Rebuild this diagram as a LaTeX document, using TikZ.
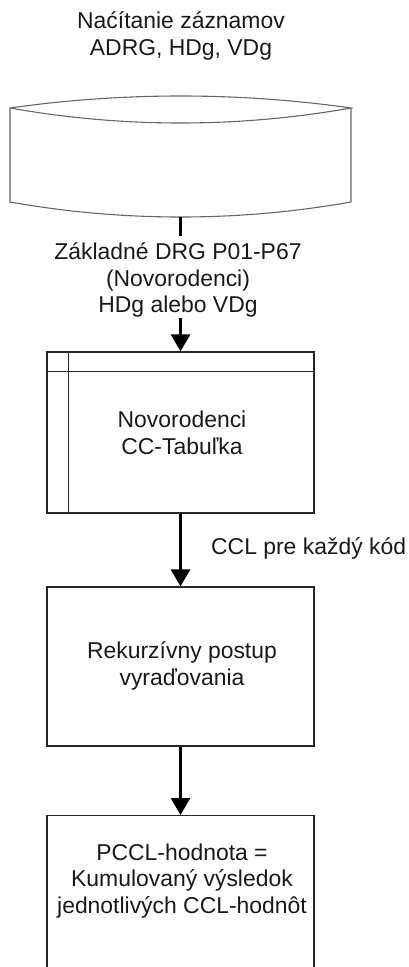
\documentclass[tikz,border=0pt]{standalone}
\usepackage{fontspec}
\setmainfont{Liberation Sans}
\usetikzlibrary{arrows.meta}
\begin{document}
\begin{tikzpicture}[x=1bp,y=-1bp,
  txt/.style={font=\fontsize{23}{27}\selectfont, align=center, text=black!90, inner sep=0pt},
  procbox/.style={draw=black!85, line width=1.3bp, minimum width=267bp, inner sep=0pt},
  storeline/.style={draw=black!60, line width=1.1bp},
  thickline/.style={line width=3.2bp},
  arr/.style={thickline, -{Triangle[width=19bp,length=17bp]}},
]
\useasboundingbox (0,0) rectangle (408,967);
\clip (0,0) rectangle (408,967);

% title
\node[txt] (t0) at (181,36) {Naćítanie záznamov\\ADRG, HDg, VDg};

% stored-data shape
\draw[storeline] (10,108) .. controls (123,92) and (238,92) .. (351,108)
  .. controls (238,128) and (123,128) .. (10,108) -- (10,202)
  .. controls (123,222) and (238,222) .. (351,202) -- (351,108);
\coordinate (sb) at (180.5,217);

% label between shape and first box
\node[txt] (l1) at (178,280) {Základné DRG P01-P67\\(Novorodenci)\\HDg alebo VDg};
\coordinate (l1top) at (180.5,236);
\coordinate (l1bot) at (180.5,318);

% box 1
\node[procbox, minimum height=161bp] (b1) at (180.5,432.5) {};
\node[txt] (t1) at (182,433) {Novorodenci\\CC-Tabuľka};
\draw[draw=black!85, line width=1.3bp] ([yshift=-20bp]b1.north west) -- ([yshift=-20bp]b1.north east);
\draw[draw=black!85, line width=1.3bp] ([xshift=22bp]b1.north west) -- ([xshift=22bp]b1.south west);

% box 2
\node[procbox, minimum height=159bp] (b2) at (180.5,666.5) {};
\node[txt] (t2) at (182,666) {Rekurzívny postup\\vyraďovania};

% box 3
\node[procbox, minimum height=180bp, anchor=north] (b3) at (180.5,815) {};
\node[txt] (t3) at (182,881) {PCCL-hodnota =\\Kumulovaný výsledok\\jednotlivých CCL-hodnôt};

% connectors
\draw[thickline] (sb) -- (l1top);
\draw[arr] (l1bot) -- (b1.north);
\draw[arr] (b1.south) -- (b2.north);
\node[txt, anchor=west] (l2) at (211,548) {CCL pre každý kód};
\draw[arr] (b2.south) -- (b3.north);
\end{tikzpicture}
\end{document}
